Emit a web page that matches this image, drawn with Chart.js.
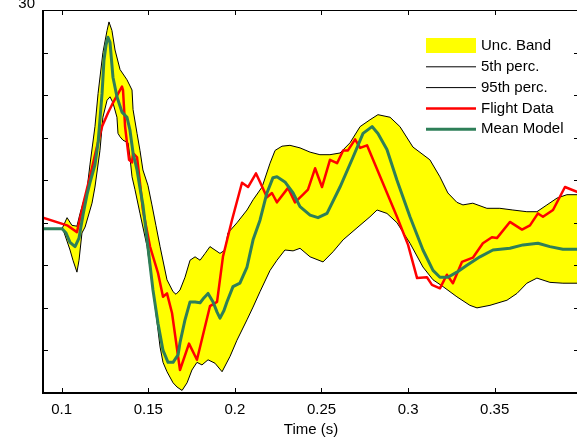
<!DOCTYPE html>
<html><head><meta charset="utf-8">
<script src="https://cdn.jsdelivr.net/npm/chart.js@4/dist/chart.umd.min.js"></script>
<style>html,body{margin:0;padding:0;background:#fff;overflow:hidden;width:577px;height:440px}
#wrap{width:580px;height:440px}</style></head>
<body><div id="wrap"><canvas id="c" width="580" height="440"></canvas></div>
<script>
// ---- Data ----
const xTicks = [0.1, 0.15, 0.2, 0.25, 0.3, 0.35];
const xTickLabels = ['0.1', '0.15', '0.2', '0.25', '0.3', '0.35'];
const yTicks = [30, 25, 20, 15, 10, 5, 0, -5, -10, -15];
const yTickLabels = ['30', '', '', '', '', '', '', '', '', ''];
const xTitle = 'Time (s)';
const legendLabels = ['Unc. Band', '5th perc.', '95th perc.', 'Flight Data', 'Mean Model'];

const meanModel = [[0.0892,4.3],[0.1002,4.3],[0.1025,3.8],[0.1048,2.7],[0.1077,2.2],[0.1100,3.2],[0.1123,5.9],[0.1146,8.3],[0.1163,9.7],[0.1192,11.8],[0.1210,14.4],[0.1233,20.2],[0.1244,24.1],[0.1256,25.9],[0.1267,26.8],[0.1279,26.2],[0.1296,22.1],[0.1319,19.8],[0.1348,18.0],[0.1377,17.4],[0.1394,15.9],[0.1412,13.2],[0.1435,11.2],[0.1452,9.1],[0.1469,7.1],[0.1493,3.0],[0.1527,-2.9],[0.1556,-6.8],[0.1585,-10.0],[0.1614,-11.4],[0.1643,-11.4],[0.1672,-10.5],[0.1683,-9.1],[0.1712,-6.4],[0.1741,-4.3],[0.1770,-4.3],[0.1799,-4.4],[0.1822,-3.8],[0.1845,-3.3],[0.1874,-4.3],[0.1897,-5.5],[0.1914,-6.2],[0.1937,-5.3],[0.1954,-4.3],[0.1989,-2.5],[0.2029,-2.1],[0.2070,-0.2],[0.2105,3.0],[0.2145,5.3],[0.2185,8.5],[0.2220,10.3],[0.2243,10.4],[0.2289,9.8],[0.2336,8.5],[0.2376,6.9],[0.2434,5.9],[0.2480,5.6],[0.2532,6.1],[0.2607,9.2],[0.2682,12.7],[0.2740,15.5],[0.2792,16.3],[0.2826,15.5],[0.2878,13.6],[0.2936,10.0],[0.3011,5.7],[0.3086,1.8],[0.3144,-0.6],[0.3184,-1.4],[0.3230,-1.4],[0.3282,-0.8],[0.3340,0.0],[0.3415,1.0],[0.3490,1.8],[0.3588,2.0],[0.3664,2.4],[0.3750,2.6],[0.3819,2.2],[0.3894,1.9],[0.3993,1.9]];

const flightData = [[0.0892,5.6],[0.1031,4.7],[0.1088,3.9],[0.1123,7.1],[0.1163,10.4],[0.1198,13.5],[0.1233,16.3],[0.1267,17.9],[0.1296,19.1],[0.1348,21.0],[0.1354,20.6],[0.1366,16.3],[0.1377,14.4],[0.1389,12.4],[0.1406,12.1],[0.1412,13.2],[0.1435,12.7],[0.1452,9.7],[0.1469,6.5],[0.1510,2.2],[0.1556,-0.9],[0.1585,-3.7],[0.1608,-3.3],[0.1637,-5.6],[0.1683,-12.3],[0.1735,-9.2],[0.1781,-11.1],[0.1856,-4.8],[0.1897,-4.3],[0.1931,1.0],[0.1983,5.3],[0.2041,9.7],[0.2076,9.2],[0.2122,10.8],[0.2145,9.8],[0.2185,8.0],[0.2214,8.5],[0.2243,7.4],[0.2307,9.1],[0.2347,7.4],[0.2393,8.3],[0.2422,8.9],[0.2463,11.4],[0.2503,9.2],[0.2549,12.4],[0.2590,12.0],[0.2625,13.5],[0.2653,13.5],[0.2694,14.8],[0.2723,13.8],[0.2763,14.1],[0.2936,5.7],[0.3000,2.4],[0.3052,-1.5],[0.3109,-1.4],[0.3138,-2.3],[0.3184,-2.7],[0.3224,-1.1],[0.3259,-2.1],[0.3311,0.4],[0.3374,0.9],[0.3432,2.6],[0.3484,3.3],[0.3513,3.2],[0.3588,5.1],[0.3658,4.2],[0.3704,4.7],[0.3750,6.1],[0.3779,5.7],[0.3837,6.5],[0.3906,9.2],[0.3993,8.5]];

const perc95 = [[0.0892,4.3],[0.1002,4.3],[0.1031,5.6],[0.1059,4.7],[0.1088,4.6],[0.1106,6.1],[0.1146,8.9],[0.1163,11.8],[0.1192,16.3],[0.1210,20.2],[0.1238,25.0],[0.1262,27.6],[0.1273,28.6],[0.1290,27.6],[0.1308,25.3],[0.1337,23.0],[0.1377,21.8],[0.1406,20.6],[0.1412,18.3],[0.1435,15.5],[0.1452,13.5],[0.1469,11.2],[0.1498,9.4],[0.1521,7.1],[0.1544,4.7],[0.1568,2.2],[0.1608,-1.7],[0.1643,-3.1],[0.1660,-3.4],[0.1683,-2.9],[0.1712,-1.4],[0.1741,0.6],[0.1770,1.0],[0.1799,0.6],[0.1828,1.4],[0.1856,2.2],[0.1885,1.8],[0.1914,1.4],[0.1943,1.8],[0.1960,3.8],[0.2012,5.0],[0.2070,6.5],[0.2105,7.7],[0.2157,9.2],[0.2203,12.0],[0.2232,13.5],[0.2272,14.0],[0.2318,14.1],[0.2376,13.8],[0.2434,13.3],[0.2491,13.0],[0.2549,13.0],[0.2607,13.2],[0.2665,14.4],[0.2723,16.3],[0.2780,17.1],[0.2826,17.7],[0.2896,17.4],[0.2953,16.3],[0.3028,13.9],[0.3126,12.4],[0.3184,10.4],[0.3230,8.5],[0.3282,7.4],[0.3317,7.1],[0.3374,7.3],[0.3455,6.7],[0.3530,6.7],[0.3605,6.5],[0.3686,6.3],[0.3744,6.3],[0.3802,7.1],[0.3860,7.9],[0.3917,8.3],[0.3993,8.3]];

const perc5 = [[0.0892,4.3],[0.1002,4.3],[0.1008,4.2],[0.1048,1.8],[0.1065,0.6],[0.1088,-0.8],[0.1100,0.6],[0.1117,3.8],[0.1135,4.5],[0.1175,7.3],[0.1192,9.2],[0.1221,13.5],[0.1238,17.4],[0.1262,19.4],[0.1279,19.8],[0.1296,19.1],[0.1319,17.4],[0.1325,15.5],[0.1337,15.1],[0.1354,14.7],[0.1383,14.4],[0.1394,12.7],[0.1406,10.4],[0.1423,8.9],[0.1452,6.1],[0.1493,2.2],[0.1527,-2.9],[0.1556,-7.6],[0.1568,-9.6],[0.1585,-11.4],[0.1608,-12.5],[0.1643,-13.8],[0.1666,-14.3],[0.1695,-14.7],[0.1724,-13.8],[0.1752,-12.3],[0.1781,-11.4],[0.1810,-11.7],[0.1845,-11.1],[0.1885,-11.5],[0.1926,-12.5],[0.1972,-10.7],[0.2012,-8.8],[0.2070,-6.4],[0.2105,-4.9],[0.2145,-3.1],[0.2203,-0.6],[0.2243,0.6],[0.2289,1.8],[0.2336,1.7],[0.2376,2.0],[0.2434,1.0],[0.2509,0.4],[0.2567,1.6],[0.2625,3.0],[0.2705,4.4],[0.2780,5.7],[0.2821,6.5],[0.2878,6.1],[0.2936,5.0],[0.3011,2.6],[0.3086,-0.2],[0.3144,-1.7],[0.3202,-2.5],[0.3282,-3.7],[0.3357,-4.7],[0.3398,-5.0],[0.3473,-4.7],[0.3571,-4.1],[0.3629,-3.3],[0.3686,-2.1],[0.3744,-1.5],[0.3819,-2.0],[0.3894,-2.1],[0.3993,-2.1]];

const xMin = 0.0892, xMax = 0.3987, yMin = -15, yMax = 30;

// ---- Styles ----
const FONT = '"Liberation Sans", Arial, sans-serif';
Chart.defaults.font.family = FONT;
Chart.defaults.font.size = 15;
Chart.defaults.color = '#000';

const toXY = arr => arr.map(([x, y]) => ({x, y}));
const lineBase = {pointRadius: 0, pointHoverRadius: 0, tension: 0, borderJoinStyle: 'round', borderCapStyle: 'round'};

const dsMean = Object.assign({label: legendLabels[4], data: toXY(meanModel), borderColor: '#2e7f58', borderWidth: 3, fill: false, order: 0}, lineBase);
const dsFlight = Object.assign({label: legendLabels[3], data: toXY(flightData), borderColor: '#ff0000', borderWidth: 2.5, fill: false, order: 1}, lineBase);
const ds95 = Object.assign({label: legendLabels[2], data: toXY(perc95), borderColor: '#000', borderWidth: 1, backgroundColor: '#ffff00', fill: '+1', order: 2}, lineBase);
const ds5 = Object.assign({label: legendLabels[1], data: toXY(perc5), borderColor: '#000', borderWidth: 1, fill: false, order: 3}, lineBase);

const boxPlugin = {
  id: 'boxTicks',
  afterDatasetsDraw(chart) {
    const {ctx, chartArea: a, scales: {x, y}} = chart;
    ctx.save();
    ctx.strokeStyle = '#000';
    ctx.lineWidth = 1;
    ctx.beginPath();
    ctx.moveTo(a.left, a.top + 0.5); ctx.lineTo(a.right, a.top + 0.5);
    ctx.moveTo(a.right - 0.5, a.top); ctx.lineTo(a.right - 0.5, a.bottom);
    ctx.stroke();
    ctx.lineWidth = 2;
    ctx.beginPath();
    ctx.moveTo(a.left, a.top); ctx.lineTo(a.left, a.bottom); ctx.lineTo(a.right, a.bottom);
    ctx.stroke();
    ctx.lineWidth = 1;
    ctx.beginPath();
    const T = 5;
    x.ticks.forEach(t => {
      const px = Math.round(x.getPixelForValue(t.value)) + 0.5;
      ctx.moveTo(px, a.bottom); ctx.lineTo(px, a.bottom - T);
      ctx.moveTo(px, a.top); ctx.lineTo(px, a.top + T);
    });
    y.ticks.forEach(t => {
      const py = Math.round(y.getPixelForValue(t.value)) + 0.5;
      ctx.moveTo(a.left, py); ctx.lineTo(a.left + T, py);
      ctx.moveTo(a.right, py); ctx.lineTo(a.right - T, py);
    });
    ctx.stroke();
    ctx.restore();
  }
};

const legendPlugin = {
  id: 'insideLegend',
  afterDraw(chart) {
    const {ctx} = chart;
    const items = [
      {label: legendLabels[0], rect: ds95.backgroundColor},
      {label: legendLabels[1], color: ds5.borderColor, width: ds5.borderWidth},
      {label: legendLabels[2], color: ds95.borderColor, width: ds95.borderWidth},
      {label: legendLabels[3], color: dsFlight.borderColor, width: dsFlight.borderWidth},
      {label: legendLabels[4], color: dsMean.borderColor, width: dsMean.borderWidth}
    ];
    const x0 = 426, x1 = 476, tx = 481, y0 = 46, dy = 20.8;
    ctx.save();
    ctx.font = '15px ' + FONT;
    ctx.textBaseline = 'middle';
    ctx.textAlign = 'left';
    items.forEach((it, i) => {
      const yy = y0 + i * dy;
      if (it.rect) {
        ctx.fillStyle = it.rect;
        ctx.fillRect(x0, yy - 8, x1 - x0, 15);
      } else {
        ctx.strokeStyle = it.color;
        ctx.lineWidth = it.width;
        ctx.beginPath(); ctx.moveTo(x0, yy); ctx.lineTo(x1, yy); ctx.stroke();
      }
      ctx.fillStyle = '#000';
      ctx.fillText(it.label, tx, yy);
    });
    ctx.restore();
  }
};

const zeroPad = s => { s.paddingTop = 0; s.paddingBottom = 0; s.paddingLeft = 0; s.paddingRight = 0; };

new Chart(document.getElementById('c'), {
  type: 'line',
  data: {datasets: [dsMean, dsFlight, ds95, ds5]},
  plugins: [boxPlugin, legendPlugin],
  options: {
    responsive: false,
    animation: false,
    events: [],
    layout: {padding: {top: 10, right: 1, left: 0, bottom: 0}},
    plugins: {legend: {display: false}, tooltip: {enabled: false}, filler: {drawTime: 'beforeDatasetsDraw'}},
    scales: {
      x: {
        type: 'linear', min: xMin, max: xMax,
        afterBuildTicks: s => { s.ticks = xTicks.map(v => ({value: v})); },
        afterFit: s => { s.height = 47; zeroPad(s); },
        grid: {display: false, drawTicks: false},
        border: {display: false},
        ticks: {autoSkip: false, maxRotation: 0, padding: 8, callback: (v, i) => xTickLabels[i]},
        title: {display: true, text: xTitle, padding: {top: 0, bottom: 1}}
      },
      y: {
        type: 'linear', min: yMin, max: yMax,
        afterBuildTicks: s => { s.ticks = yTicks.map(v => ({value: v})); },
        afterFit: s => { s.width = 43; zeroPad(s); },
        grid: {display: false, drawTicks: false},
        border: {display: false},
        ticks: {autoSkip: false, padding: 8, labelOffset: -6, callback: (v, i) => yTickLabels[i]}
      }
    }
  }
});
</script></body></html>
